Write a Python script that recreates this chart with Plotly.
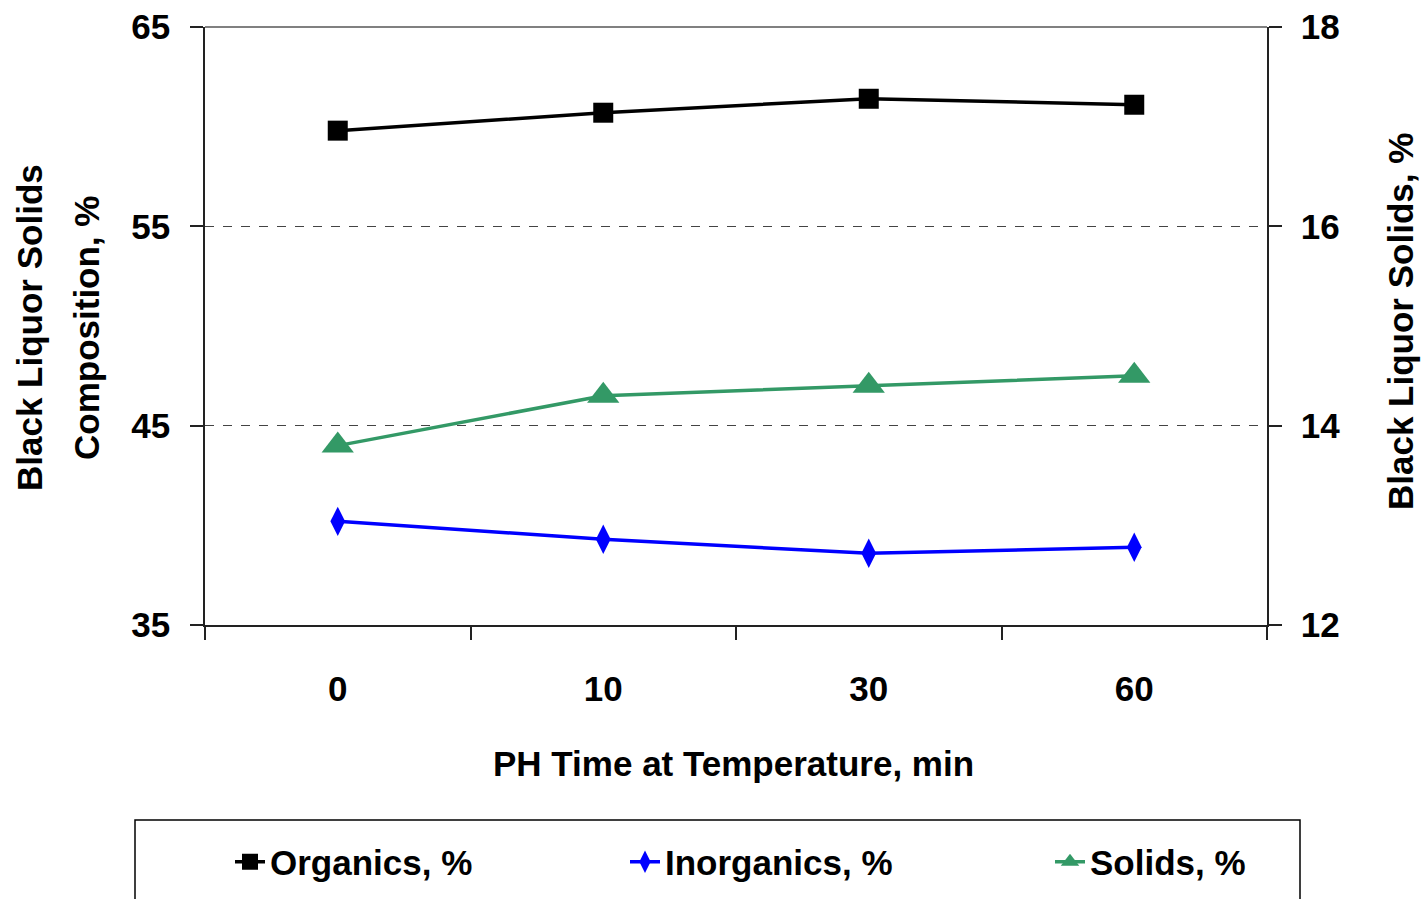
import plotly.graph_objects as go

categories = ["0", "10", "30", "60"]
organics = [59.8, 60.7, 61.4, 61.1]
inorganics = [40.2, 39.3, 38.6, 38.9]
solids = [13.8, 14.3, 14.4, 14.5]

left_ticks = [35, 45, 55, 65]
right_ticks = [12, 14, 16, 18]

FONT = "Liberation Sans, Arial, sans-serif"

# plot-area pixel geometry
L, R, T, B = 205, 1267, 27, 625
W, H = R - L, B - T


def px(xp):
    return (xp - L) / W


def py(yp):
    return (B - yp) / H


fig = go.Figure()
fig.add_trace(go.Scatter(
    x=categories, y=organics, name="Organics, %", mode="lines+markers",
    line=dict(color="#000000", width=3.5),
    marker=dict(symbol="square", size=20, color="#000000"),
    legend="legend", showlegend=True,
))
fig.add_trace(go.Scatter(
    x=categories, y=inorganics, name="Inorganics, %", mode="lines+markers",
    line=dict(color="#0000FF", width=3.5),
    marker=dict(symbol="diamond-tall", size=21, color="#0000FF"),
    legend="legend2", showlegend=True,
))
fig.add_trace(go.Scatter(
    x=categories, y=solids, name="Solids, %", mode="lines+markers",
    line=dict(color="#339966", width=3.5),
    marker=dict(symbol="triangle-up", size=28, color="#339966"),
    yaxis="y2", legend="legend3", showlegend=True,
))

tickfont = dict(family=FONT, size=35, color="#000000", weight="bold")
legfont = dict(family=FONT, size=35, color="#000000", weight="bold")

leg_common = dict(y=py(862), xanchor="left", yanchor="middle",
                  orientation="h", font=legfont, bgcolor="rgba(0,0,0,0)",
                  visible=True)

fig.update_layout(
    width=1423, height=899, showlegend=True,
    margin=dict(l=L, r=1423 - R, t=T, b=899 - B, autoexpand=False),
    paper_bgcolor="white", plot_bgcolor="white",
    xaxis=dict(
        type="category", categoryorder="array", categoryarray=categories,
        range=[-0.5, 3.5], showgrid=False, showline=True, linecolor="#222",
        linewidth=1.5, ticks="outside", tickson="boundaries", ticklen=13,
        tickwidth=1.5, tickcolor="#222", tickfont=tickfont,
        ticklabelstandoff=32, zeroline=False,
    ),
    yaxis=dict(
        range=[35, 65], tickvals=left_ticks, showgrid=True, gridcolor="#444",
        griddash="dash", gridwidth=1, showline=True, linecolor="#222",
        linewidth=1.5, ticks="outside", ticklen=13, tickwidth=1.5,
        tickcolor="#222", tickfont=tickfont, ticklabelstandoff=13,
        zeroline=False,
    ),
    yaxis2=dict(
        range=[12, 18], tickvals=right_ticks, overlaying="y", side="right",
        showgrid=False, showline=True, linecolor="#222", linewidth=1.5,
        ticks="outside", ticklen=13, tickwidth=1.5, tickcolor="#222",
        tickfont=tickfont, ticklabelstandoff=12, zeroline=False,
    ),
    legend=dict(x=px(230), **leg_common),
    legend2=dict(x=px(625), **leg_common),
    legend3=dict(x=px(1050), **leg_common),
    shapes=[
        dict(type="line", xref="paper", yref="paper", x0=0, x1=1, y0=1, y1=1,
             line=dict(color="#808080", width=2)),
        dict(type="rect", xref="paper", yref="paper",
             x0=px(135), x1=px(1300), y0=py(910), y1=py(820),
             line=dict(color="#000000", width=1.5)),
    ],
    annotations=[
        dict(text="PH Time at Temperature, min", xref="paper", yref="paper",
             x=px(733), y=py(763), xanchor="center", yanchor="middle",
             showarrow=False, font=legfont),
        dict(text="Black Liquor Solids", xref="paper", yref="paper",
             x=px(29), y=py(328), xanchor="center", yanchor="middle",
             textangle=-90, showarrow=False,
             font=dict(family=FONT, size=35, color="#000", weight="bold")),
        dict(text="Composition, %", xref="paper", yref="paper",
             x=px(86), y=py(328), xanchor="center", yanchor="middle",
             textangle=-90, showarrow=False,
             font=dict(family=FONT, size=35, color="#000", weight="bold")),
        dict(text="Black Liquor Solids, %", xref="paper", yref="paper",
             x=px(1400), y=py(322), xanchor="center", yanchor="middle",
             textangle=-90, showarrow=False,
             font=dict(family=FONT, size=35, color="#000", weight="bold")),
    ],
)

fig.write_html("out.html")
